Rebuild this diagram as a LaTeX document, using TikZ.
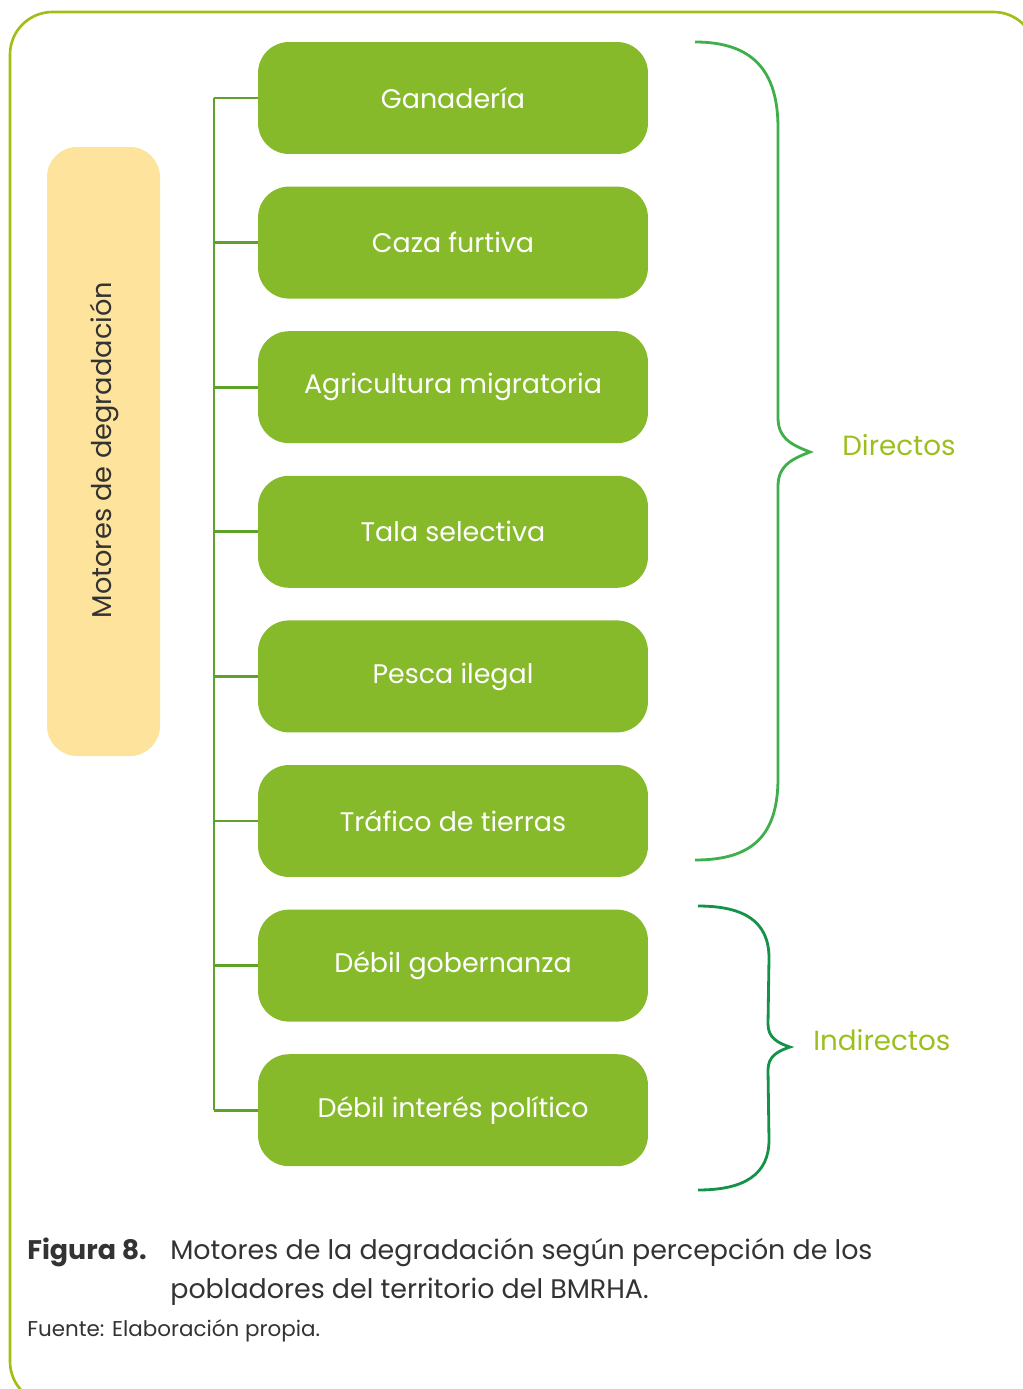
\documentclass[tikz,border=0pt]{standalone}
\usepackage{fontspec}
\setmainfont{Poppins}
\usepackage{tikz}
\usetikzlibrary{positioning}

\definecolor{marco}{HTML}{A0BE14}
\definecolor{verde}{HTML}{86BA2A}
\definecolor{tronco}{HTML}{5FA22A}
\definecolor{amarillo}{HTML}{FEE39C}
\definecolor{llave}{HTML}{3EAF4B}
\definecolor{llaveosc}{HTML}{15924A}
\definecolor{etiq}{HTML}{9CBF1E}
\definecolor{texto}{HTML}{333333}

\tikzset{
  motor/.style={fill=verde, rounded corners=0.62cm, minimum width=7.8cm,
    minimum height=2.24cm, text=white, font=\fontsize{15.3}{17}\selectfont},
  rama/.style={draw=tronco, line width=1.6pt},
  grupo/.style={text=etiq, font=\fontsize{15.8}{18}\selectfont, anchor=west, inner sep=0pt},
  pie/.style={anchor=base west, text=texto, inner sep=0pt, font=\fontsize{15.3}{18}\selectfont}
}

\begin{document}
\begin{tikzpicture}[x=0.02cm, y=-0.02cm]

\useasboundingbox (0,0) rectangle (1023,1389);
\draw [marco, line width=1.5pt, rounded corners=0.85cm] (10,12) rectangle (1036,1404);

% caja lateral
\fill [amarillo, rounded corners=0.6cm] (47,147) rectangle (160,756);
\node [rotate=90, text=texto, font=\fontsize{15.5}{17}\selectfont] (motores) at (104,450) {Motores de degradación};

% motores
\foreach \t [count=\i] in {Ganadería, Caza furtiva, Agricultura migratoria, Tala selectiva,
  Pesca ilegal, Tráfico de tierras, Débil gobernanza, Débil interés político}
  \node [motor] (m\i) at (453,{98+144.6*(\i-1)}) {\t};

\coordinate (tronco) at (214,0);
\draw [rama] (tronco |- m1.west) -- (tronco |- m8.west);
\foreach \i in {1,...,8} \draw [rama] (tronco |- m\i.west) -- (m\i.west);

% llaves
\draw [llave, line width=1.6pt] (695,42) .. controls (752,42) and (778,70) .. (778,128)
  -- (778,418) .. controls (778,440) and (795,446) .. (810,452)
  .. controls (795,458) and (778,464) .. (778,486)
  -- (778,778) .. controls (778,836) and (752,860) .. (695,860);
\node [grupo] (directos) at (842,445) {Directos};

\draw [llaveosc, line width=1.6pt] (698,906) .. controls (745,906) and (769,922) .. (769,958)
  -- (768,1024) .. controls (768,1038) and (778,1043) .. (790,1047)
  .. controls (778,1051) and (768,1056) .. (768,1070)
  -- (769,1140) .. controls (769,1174) and (745,1190) .. (698,1190);
\node [grupo] (indirectos) at (813,1040) {Indirectos};

% pie de figura
\node [pie, font=\fontsize{15.3}{18}\selectfont\bfseries] (fig) at (27,1259) {Figura 8.};
\node [pie] (pie1) at (170,1259) {Motores de la degradación según percepción de los};
\node [pie] (pie2) at (170,1298) {pobladores del territorio del BMRHA.};
\node [pie, font=\fontsize{12.2}{14}\selectfont] (fuente) at (27,1336) {Fuente: Elaboración propia.};

\end{tikzpicture}
\end{document}
